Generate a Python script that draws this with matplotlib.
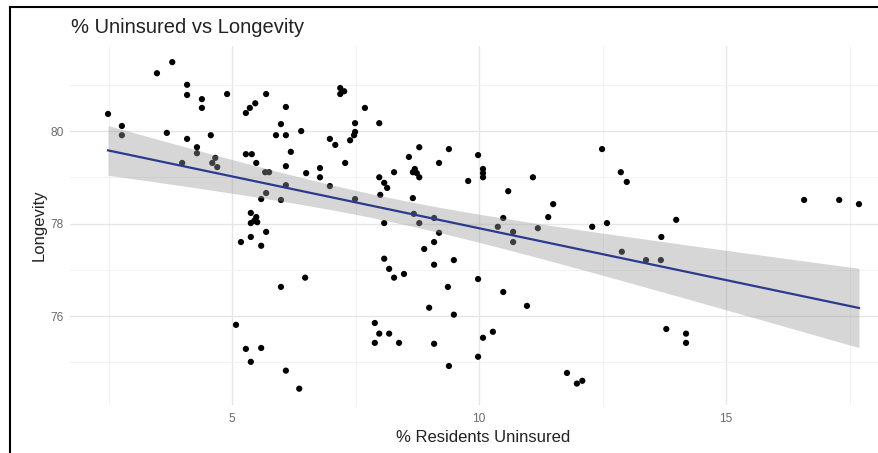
import numpy as np
import matplotlib
matplotlib.use("Agg")
import matplotlib.pyplot as plt
from matplotlib.lines import Line2D
from matplotlib.ticker import FixedLocator

plt.rcParams['font.family'] = ['Liberation Sans', 'DejaVu Sans']

# ---- data: % residents uninsured vs longevity ----
pct_uninsured = [
    2.49, 2.77, 2.77, 3.48, 3.79, 3.68, 4.09, 4.09, 3.99, 4.09,
    4.29, 4.29, 4.39, 4.39, 4.57, 4.66, 4.60, 4.70, 4.90, 5.28,
    5.36, 5.47, 5.69, 6.09, 5.99, 5.89, 6.09, 6.19, 5.28, 5.40,
    5.49, 5.67, 5.75, 6.09, 6.09, 5.69, 5.59, 5.99, 5.38, 5.49,
    5.38, 5.51, 5.45, 5.69, 5.38, 5.18, 5.59, 6.48, 5.99, 5.08,
    5.28, 5.59, 5.38, 6.09, 6.36, 6.98, 7.49, 6.40, 6.50, 6.78,
    6.78, 7.19, 7.27, 7.19, 7.69, 7.49, 7.49, 7.47, 7.39, 6.98,
    7.09, 7.29, 7.98, 7.98, 8.08, 8.14, 8.79, 8.58, 9.39, 9.19,
    9.98, 8.70, 8.74, 8.79, 8.66, 8.28, 9.78, 10.08, 10.08, 10.08,
    10.59, 8.00, 8.66, 11.09, 11.50, 11.40, 10.49, 10.38, 10.69, 10.69,
    11.19, 12.49, 12.87, 12.99, 12.29, 12.59, 13.99, 13.69, 12.89, 13.38,
    13.68, 16.58, 17.29, 17.69, 13.79, 14.19, 14.19, 11.78, 11.98, 12.09,
    8.68, 8.79, 9.09, 9.19, 9.09, 8.89, 8.08, 8.08, 8.18, 8.28,
    8.48, 9.09, 9.49, 9.98, 9.37, 10.49, 8.99, 10.97, 9.49, 7.89,
    7.98, 8.18, 7.89, 8.38, 9.09, 9.39, 9.98, 10.08, 10.28,
]
longevity = [
    80.37, 80.11, 79.91, 81.25, 81.49, 79.96, 81.00, 80.78, 79.31, 79.83,
    79.65, 79.52, 80.69, 80.50, 79.91, 79.42, 79.31, 79.22, 80.80, 80.39,
    80.50, 80.60, 80.80, 80.52, 80.15, 79.91, 79.91, 79.55, 79.50, 79.50,
    79.31, 79.11, 79.11, 79.24, 78.83, 78.66, 78.53, 78.51, 78.23, 78.14,
    78.01, 78.03, 78.06, 77.82, 77.71, 77.60, 77.52, 76.83, 76.63, 75.81,
    75.29, 75.31, 75.01, 74.82, 74.43, 78.81, 78.53, 80.00, 79.09, 79.20,
    79.00, 80.93, 80.86, 80.80, 80.50, 80.17, 79.98, 79.91, 79.80, 79.83,
    79.70, 79.31, 80.17, 79.00, 78.88, 78.77, 79.65, 79.44, 79.61, 79.31,
    79.48, 79.18, 79.09, 79.00, 79.11, 79.11, 78.92, 79.18, 79.09, 79.00,
    78.70, 78.62, 78.55, 79.00, 78.42, 78.14, 78.12, 77.93, 77.82, 77.60,
    77.90, 79.61, 79.11, 78.90, 77.93, 78.01, 78.08, 77.71, 77.39, 77.21,
    77.21, 78.51, 78.51, 78.42, 75.72, 75.62, 75.42, 74.77, 74.54, 74.60,
    78.21, 78.01, 78.12, 77.80, 77.60, 77.45, 78.01, 77.24, 77.02, 76.83,
    76.91, 77.11, 77.21, 76.80, 76.63, 76.52, 76.18, 76.22, 76.03, 75.85,
    75.62, 75.62, 75.42, 75.42, 75.40, 74.92, 75.12, 75.53, 75.66,
]
x_major = [5, 10, 15]
x_minor = [2.5, 7.5, 12.5, 17.5]
y_major = [76, 78, 80]
y_minor = [75, 77, 79, 81]
title = "% Uninsured vs Longevity"
xlabel = "% Residents Uninsured"
ylabel = "Longevity"

x = np.array(pct_uninsured)
y = np.array(longevity)

# ---- linear fit with 95% confidence band (like geom_smooth(method='lm')) ----
n = len(x)
b1, b0 = np.polyfit(x, y, 1)
xs = np.linspace(x.min(), x.max(), 200)
ys = b0 + b1 * xs
resid = y - (b0 + b1 * x)
s = np.sqrt(np.sum(resid ** 2) / (n - 2))
sxx = np.sum((x - x.mean()) ** 2)
se = s * np.sqrt(1.0 / n + (xs - x.mean()) ** 2 / sxx)
tcrit = 1.976  # t(0.975, df ~ 147)
lo, hi = ys - tcrit * se, ys + tcrit * se

# ---- figure ----
W, H = 879, 453
fig = plt.figure(figsize=(W / 100, H / 100), dpi=100)

xr = x.max() - x.min()
yr = y.max() - y.min()
xlim = (x.min() - 0.05 * xr, x.max() + 0.05 * xr)
ylim = (y.min() - 0.05 * yr, y.max() + 0.05 * yr)

left_px, right_px = 70.5, 896.5
top_px, bot_px = 45.8, 405.0
ax = fig.add_axes([left_px / W, 1 - bot_px / H,
                   (right_px - left_px) / W, (bot_px - top_px) / H])
ax.set_xlim(*xlim)
ax.set_ylim(*ylim)

ax.xaxis.set_major_locator(FixedLocator(x_major))
ax.xaxis.set_minor_locator(FixedLocator(x_minor))
ax.yaxis.set_major_locator(FixedLocator(y_major))
ax.yaxis.set_minor_locator(FixedLocator(y_minor))
ax.grid(which='major', color='#e6e6e6', linewidth=1.0)
ax.grid(which='minor', color='#f2f2f2', linewidth=0.7)
ax.set_axisbelow(True)
for sp in ax.spines.values():
    sp.set_visible(False)
ax.tick_params(which='both', length=0)
ax.tick_params(axis='x', which='major', pad=6, labelsize=8.6, labelcolor='#6b6b6b')
ax.tick_params(axis='y', which='major', pad=5, labelsize=8.6, labelcolor='#6b6b6b')

ax.scatter(x, y, s=20, color='black', edgecolors='none', zorder=2)
ax.fill_between(xs, lo, hi, color='#999999', alpha=0.4, linewidth=0, zorder=3)
ax.plot(xs, ys, color='#2b3a8c', linewidth=1.6, zorder=4)

ax.set_xlabel(xlabel, fontsize=12, color='#222222', labelpad=3)
ax.set_ylabel(ylabel, fontsize=12, color='#222222', labelpad=3)

fig.text(71 / W, 1 - 33 / H, title, fontsize=14.5, color='#222222',
         ha='left', va='baseline')

# outer frame (left and top edges of the screenshot border)
fig.add_artist(Line2D([9.5 / W, 9.5 / W], [0, 1 - 7 / H], transform=fig.transFigure,
                      color='black', linewidth=1.5))
fig.add_artist(Line2D([9.5 / W, 1], [1 - 7 / H, 1 - 7 / H], transform=fig.transFigure,
                      color='black', linewidth=1.5))

fig.savefig("out.png", dpi=100)
